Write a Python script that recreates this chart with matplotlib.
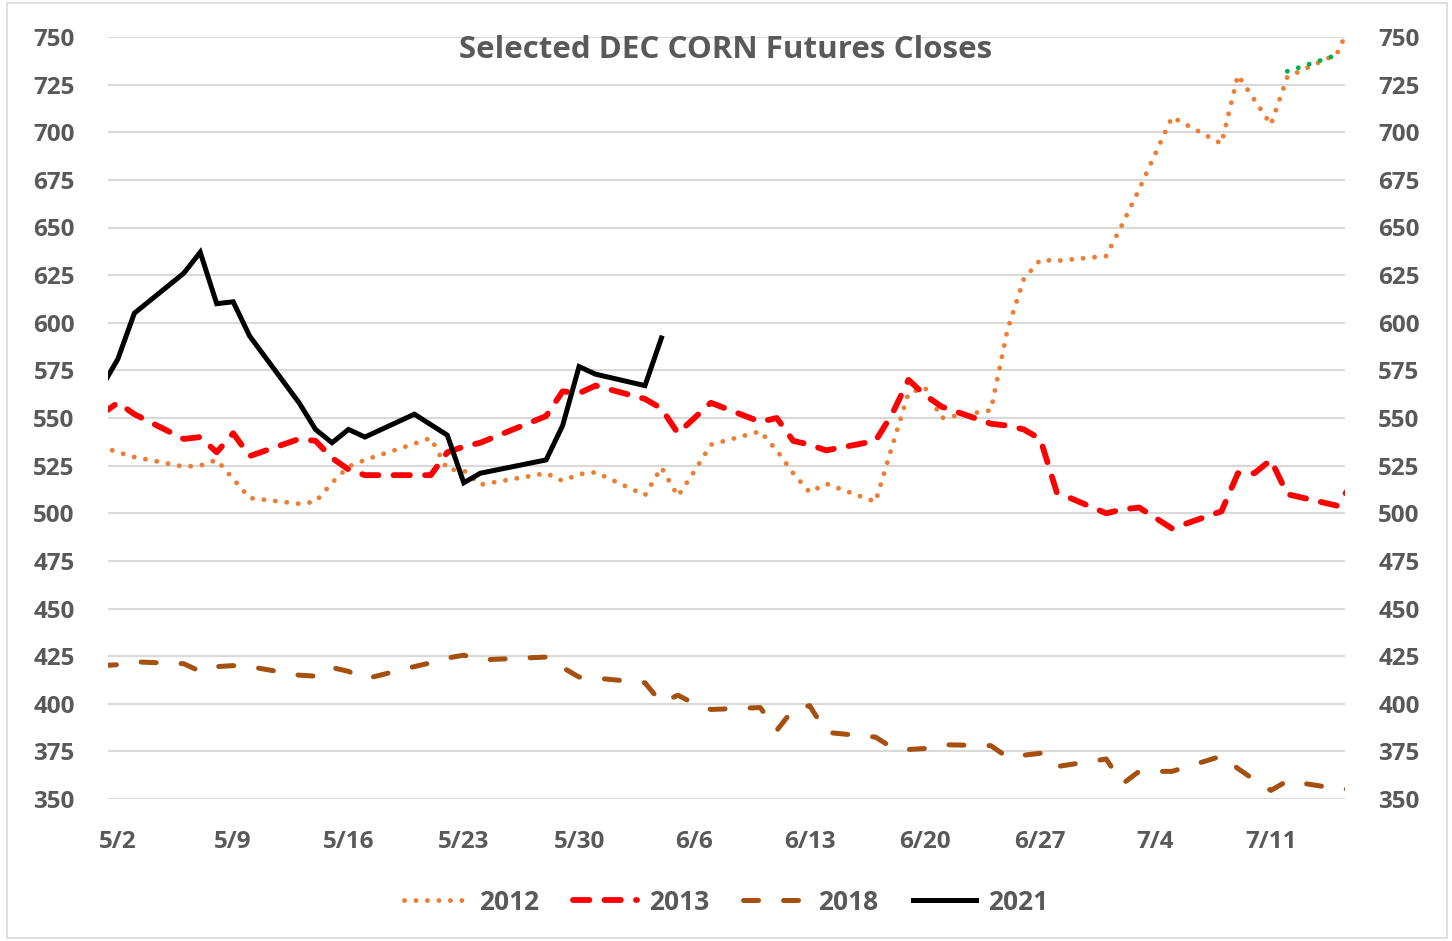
import matplotlib
matplotlib.use('Agg')
import matplotlib.pyplot as plt
import matplotlib.patches as mpatches
import pandas as pd

plt.rcParams['font.family'] = ['Open Sans', 'DejaVu Sans']
plt.rcParams['font.weight'] = 'bold'

# trading days (month/day) and closes, cents per bushel
days = ['5/1', '5/2', '5/3', '5/6', '5/7', '5/8', '5/9', '5/10', '5/13', '5/14',
        '5/15', '5/16', '5/17', '5/20', '5/21', '5/22', '5/23', '5/24', '5/28', '5/29',
        '5/30', '5/31', '6/3', '6/4', '6/5', '6/6', '6/7', '6/10', '6/11', '6/12',
        '6/13', '6/14', '6/17', '6/18', '6/19', '6/20', '6/21', '6/24', '6/25', '6/26',
        '6/27', '6/28', '7/1', '7/2', '7/3', '7/5', '7/8', '7/9', '7/10', '7/11',
        '7/12', '7/15', '7/16']

corn_2012 = [535, 532, 529.5, 524.5, 525, 528, 518, 508, 505, 506,
             516, 524.5, 528, 536.5, 539.5, 523, 522.5, 515, 521, 517,
             520.5, 521.5, 509.5, 524, 509, 522, 536, 543, 533, 521,
             511, 515.5, 506, 535, 563, 566, 550, 554, 596, 623,
             633, 632.5, 635, 652, 670, 708, 694, 730, 717, 704,
             729, 741, 760]
corn_2013 = [552, 558, 552, 539, 540, 532, 542, 530, 539, 538,
             529, 523, 520, 520, 520, 532, 535, 537, 551, 564,
             563, 567, 560, 555, 542, 550, 558, 548, 550, 538,
             536, 533, 538, 552, 570, 562, 556, 547, 546, 544,
             539, 511, 500, 502, 503, 492, 501, 521, 521, 528,
             510, 504, 516]
corn_2018 = [420, 420.5, 422, 421, 417, 419.5, 420, 419.5, 415, 414.5,
             419, 417, 413, 419.5, 421.5, 424, 425.5, 423, 424.5, 419,
             414, 413.5, 411, 400.5, 404.5, 400, 397, 398, 386, 397,
             399, 385, 382.5, 377, 376, 376.5, 378.5, 378, 372, 373,
             374, 367, 371, 358, 364.5, 364.5, 372.5, 366, 360, 354.5,
             359.5, 355.5, 355]

days_2021 = ['5/1', '5/2', '5/3', '5/6', '5/7', '5/8', '5/9', '5/10', '5/13', '5/14',
             '5/15', '5/16', '5/17', '5/20', '5/22', '5/23', '5/24', '5/28', '5/29', '5/30',
             '5/31', '6/3', '6/4']
corn_2021 = [566, 581, 605, 626, 637, 610, 611, 593, 558, 544,
             537, 544, 540, 552, 541, 516, 521, 528, 546, 577,
             573, 567, 592]

days_green = ['7/12', '7/15']
corn_green = [732, 740.5]

tick_labels = ['5/2', '5/9', '5/16', '5/23', '5/30', '6/6', '6/13', '6/20', '6/27', '7/4', '7/11']
y_ticks = list(range(350, 751, 25))


def to_dates(ds):
    return pd.to_datetime(['2021/' + d for d in ds], format='%Y/%m/%d')


fig = plt.figure(figsize=(14.52, 9.41), dpi=100)
ax = fig.add_axes([108 / 1452, 1 - 799 / 941, (1345 - 108) / 1452, (799 - 37) / 941])

fig.patches.append(mpatches.Rectangle((7 / 1452, 3 / 941), 1440 / 1452, 935 / 941,
                                      transform=fig.transFigure, fill=False,
                                      edgecolor='#d9d9d9', linewidth=1.2))

x = to_dates(days)
ax.plot(x, corn_2012, color='#ed7d31', lw=3.5, dashes=(0.01, 2.35),
        dash_capstyle='round', label='2012', zorder=3)
ax.plot(x, corn_2013, color='#ff0000', lw=4.2, dashes=(2.8, 2.6),
        dash_capstyle='round', label='2013', zorder=4)
ax.plot(x, corn_2018, color='#a5500f', lw=3.6, dashes=(3.0, 5.0),
        dash_capstyle='round', label='2018', zorder=3)
ax.plot(to_dates(days_2021), corn_2021, color='black', lw=3.6,
        solid_joinstyle='miter', label='2021', zorder=5)
ax.plot(to_dates(days_green), corn_green, color='#00b050', lw=3.5,
        dashes=(0.01, 2.35), dash_capstyle='round', zorder=4)

start = pd.Timestamp('2021-05-02')
ax.set_xlim(start - pd.Timedelta(days=0.6), start + pd.Timedelta(days=74.5))
ax.set_ylim(350, 750)
ax.set_xticks(to_dates(tick_labels))
ax.set_xticklabels(tick_labels)
ax.set_yticks(y_ticks)
ax.grid(axis='y', color='#d9d9d9', linewidth=1.5, zorder=0)
ax.set_axisbelow(True)
for s in ax.spines.values():
    s.set_visible(False)
ax.tick_params(axis='both', length=0, labelsize=17.5, labelcolor='#595959')
ax.tick_params(axis='y', pad=24, labelright=True)
ax.tick_params(axis='x', pad=22)
for lbl in ax.get_xticklabels():
    lbl.set_fontweight('bold')
for lbl in ax.yaxis.get_ticklabels(which='both'):
    lbl.set_fontweight('bold')

fig.text(0.5, 1 - 50 / 941, 'Selected DEC CORN Futures Closes', ha='center', va='center',
         fontsize=22.5, color='#595959', fontweight='bold')

leg = fig.legend(loc='center', bbox_to_anchor=(0.5, 1 - 902 / 941), ncol=4, frameon=False,
                 labelcolor='#595959', handlelength=2.4, handletextpad=0.45,
                 columnspacing=1.3, prop={'weight': 'bold', 'size': 19})
for t in leg.get_texts():
    t.set_fontweight('bold')

fig.savefig('out.png', dpi=100)
